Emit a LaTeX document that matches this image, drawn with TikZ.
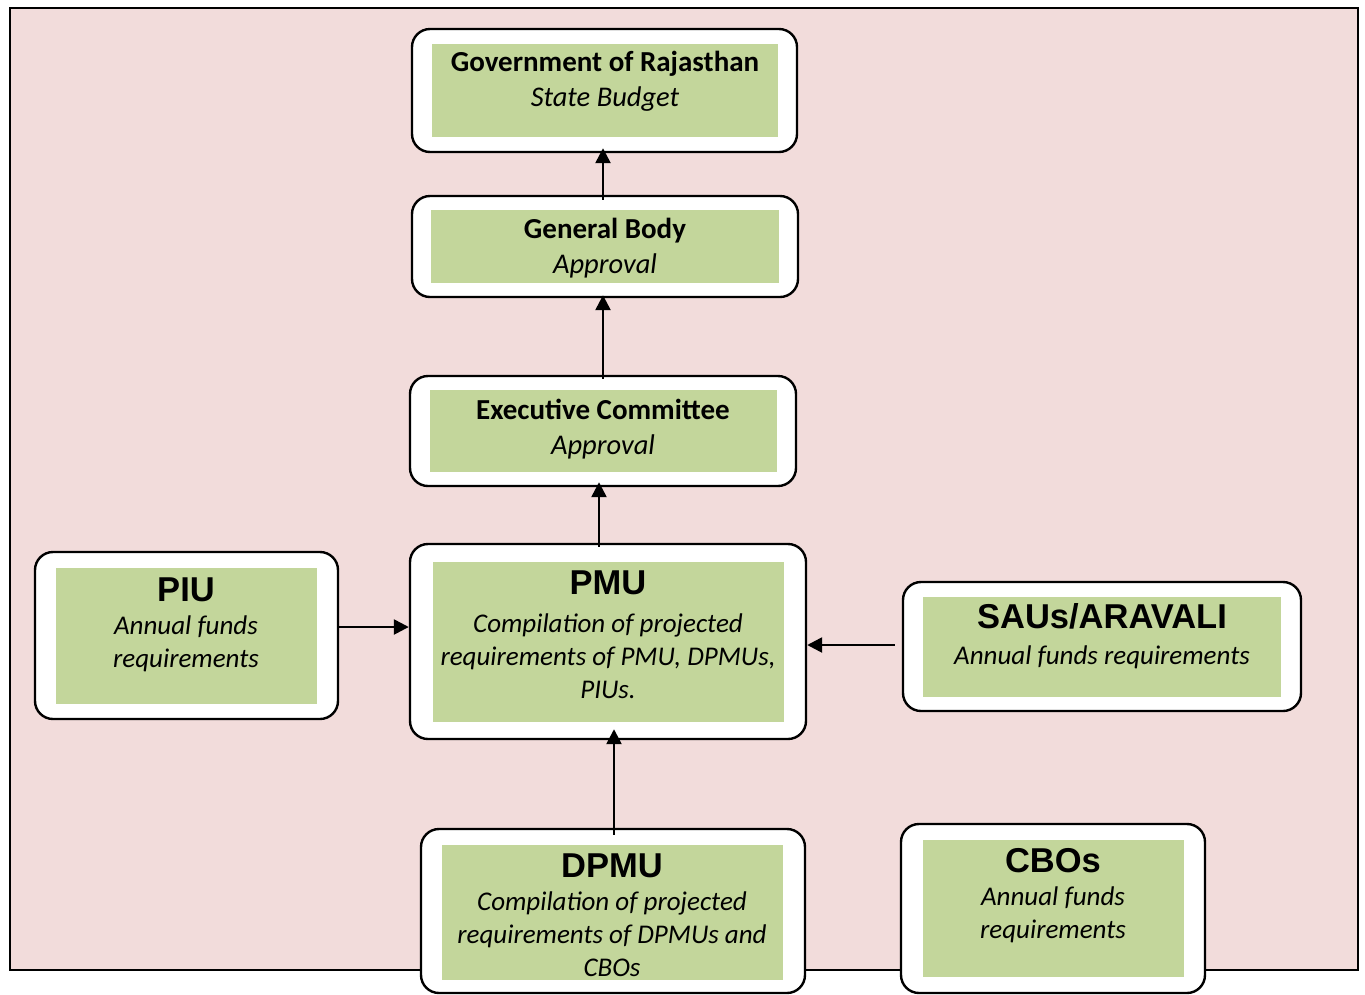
\documentclass[tikz,border=0pt]{standalone}
\usepackage{fontspec}
\setmainfont{Carlito}
\newfontfamily\arialfont{Liberation Sans}
\usetikzlibrary{arrows.meta}
\definecolor{framepink}{HTML}{F2DCDB}
\definecolor{boxgreen}{HTML}{C3D69B}

\begin{document}
\begin{tikzpicture}[x=1pt,y=-1pt,
  outerbox/.style={draw=black,fill=white,line width=2.4pt,rounded corners=18pt,inner sep=0pt},
  greenbox/.style={fill=boxgreen,inner sep=0pt},
  headtext/.style={font=\fontsize{29}{35}\selectfont\bfseries,anchor=base,inner sep=0pt},
  titletext/.style={font=\arialfont\fontsize{34.5}{40}\selectfont\bfseries,anchor=base,inner sep=0pt},
  bodytext/.style={font=\fontsize{27}{33}\selectfont\itshape,align=center,anchor=base,inner sep=0pt},
  flow/.style={line width=2.5pt,-{Triangle[length=15pt,width=15pt]}}]

\useasboundingbox (0,0) rectangle (1365,994);
\draw[fill=framepink,line width=1.8pt] (10,8) rectangle (1358,970);

%%%%%%%%%%%%%%%%%%%%%%%%%%%%%%%%%%%%%%%%%%%%
\node[outerbox,minimum width=385pt,minimum height=123pt] (gov) at (604.5,90.5) {};
\node[greenbox,minimum width=346pt,minimum height=93pt] (govin) at (gov) {};
\node[headtext] (govtitle) at (605,71) {Government of Rajasthan};
\node[bodytext,font=\fontsize{28.5}{33}\selectfont\itshape] (govnote) at (605,106) {State Budget};

\node[outerbox,minimum width=386pt,minimum height=101pt] (gb) at (605,246.5) {};
\node[greenbox,minimum width=348pt,minimum height=73pt] (gbin) at (gb) {};
\node[headtext] (gbtitle) at (605,238) {General Body};
\node[bodytext,font=\fontsize{28.5}{33}\selectfont\itshape] (gbnote) at (605,273) {Approval};

\node[outerbox,minimum width=386pt,minimum height=110pt] (ec) at (603,431) {};
\node[greenbox,minimum width=347pt,minimum height=82pt] (ecin) at (ec) {};
\node[headtext] (ectitle) at (603,419) {Executive Committee};
\node[bodytext,font=\fontsize{28.5}{33}\selectfont\itshape] (ecnote) at (603,454) {Approval};

%%%%%%%%%%%%%%%%%%%%%%%%%%%%%%%%%%%%%%%%%%%%
\node[outerbox,minimum width=303pt,minimum height=167pt] (piu) at (186.5,635.5) {};
\node[greenbox,minimum width=261pt,minimum height=136pt] (piuin) at (piu) {};
\node[titletext] (piutitle) at (186,601) {PIU};
\node[bodytext] (piunote) at (186,667) {Annual funds\\requirements};

\node[outerbox,minimum width=396pt,minimum height=195pt] (pmu) at (608,641.5) {};
\node[greenbox,minimum width=351pt,minimum height=160pt] (pmuin) at (pmu) {};
\node[titletext] (pmutitle) at (608,594) {PMU};
\node[bodytext] (pmunote) at (608,698) {Compilation of projected\\requirements of PMU, DPMUs,\\PIUs.};

\node[outerbox,minimum width=398pt,minimum height=129pt] (saus) at (1102,646.5) {};
\node[greenbox,minimum width=358pt,minimum height=100pt] (sausin) at (saus) {};
\node[titletext] (saustitle) at (1102,628) {SAUs/ARAVALI};
\node[bodytext] (sausnote) at (1102,664) {Annual funds requirements};

%%%%%%%%%%%%%%%%%%%%%%%%%%%%%%%%%%%%%%%%%%%%
\node[outerbox,minimum width=384pt,minimum height=164pt] (dpmu) at (613,911) {};
\node[greenbox,minimum width=341pt,minimum height=135pt] (dpmuin) at (612.5,912.5) {};
\node[titletext] (dpmutitle) at (612,877) {DPMU};
\node[bodytext] (dpmunote) at (612,976) {Compilation of projected\\requirements of DPMUs and\\CBOs};

\node[outerbox,minimum width=304pt,minimum height=169pt] (cbos) at (1053,908.5) {};
\node[greenbox,minimum width=261pt,minimum height=137pt] (cbosin) at (cbos) {};
\node[titletext] (cbostitle) at (1053,872) {CBOs};
\node[bodytext] (cbosnote) at (1053,938) {Annual funds\\requirements};

%%%%%%%%%%%%%%%%%%%%%%%%%%%%%%%%%%%%%%%%%%%%
\draw[flow] ([xshift=-2pt,yshift=-5pt]gb.north) -- ([xshift=-1.5pt,yshift=5pt]gov.south);
\draw[flow] ([yshift=-4pt]ec.north) -- ([xshift=-2pt,yshift=3pt]gb.south);
\draw[flow] ([xshift=-9pt,yshift=-4pt]pmu.north) -- ([xshift=-4pt,yshift=5pt]ec.south);
\draw[flow] ([yshift=8.5pt]piu.east) -- ([yshift=8.5pt]piu.east -| pmu.west);
\draw[flow] ([xshift=-7pt,yshift=1.5pt]saus.west) -- ([yshift=1.5pt]saus.west -| pmu.east);
\draw[flow] ([xshift=1pt,yshift=-7pt]dpmu.north) -- ([xshift=6pt,yshift=11pt]pmu.south);

\end{tikzpicture}
\end{document}
